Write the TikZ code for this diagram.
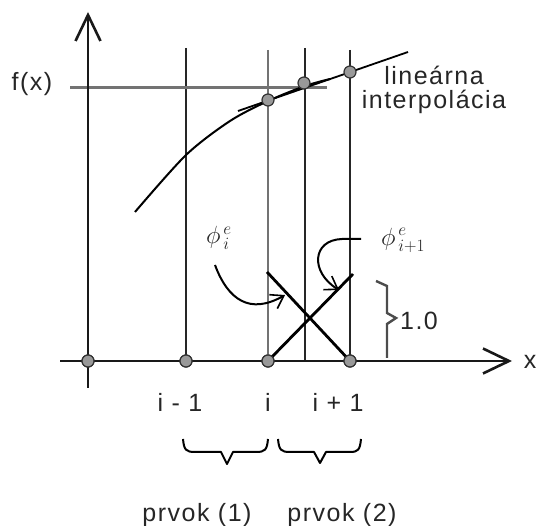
\documentclass[tikz,border=0pt]{standalone}
\usepackage{fontspec}
\setmainfont{Liberation Sans}[LetterSpace=6]
\usetikzlibrary{arrows.meta}
\begin{document}
\begin{tikzpicture}[x=1pt,y=-1pt,
  dot/.style={circle,draw=black!80,fill=gray!80,line width=1.2pt,minimum size=12pt,inner sep=0pt},
  axisline/.style={line width=2.6pt,black!90,-{Straight Barb[length=26pt,width=25pt,line width=2.6pt]}},
  gridline/.style={line width=2.2pt,black!85},
  grayline/.style={line width=2.4pt,black!55},
  hat/.style={line width=2.8pt,black},
  thin/.style={line width=2pt,black},
  pointer/.style={line width=2pt,black,-{Straight Barb[length=12pt,width=16pt,line width=1.6pt]}},
  lbl/.style={font=\fontsize{25}{27}\selectfont,text=black!85,inner sep=0pt},
  philbl/.style={font=\fontsize{24}{26}\selectfont,text=black!85,inner sep=0pt}]
\useasboundingbox (0,0) rectangle (539,526);

% dots on the x axis
\node[dot] (n0) at (88,361) {};
\node[dot] (n1) at (186,361) {};
\node[dot] (n2) at (268,361) {};
\node[dot] (n3) at (350,361) {};
\coordinate (ystart) at (88,388);
\coordinate (yend) at (88,12);
\coordinate (xstart) at (60,361);
\coordinate (xend) at (512,361);

% vertical lines
\coordinate (t1) at (186,48);
\coordinate (t2) at (268,50);
\coordinate (tm) at (305,48);
\coordinate (bm) at (305,361);
\coordinate (t3) at (350,50);
\draw[gridline] (t1) -- (n1.center);
\draw[grayline] (t2) -- (n2.center);
\draw[gridline] (tm) -- (bm);
\draw[gridline] (t3) -- (n3.center);

% f(x) horizontal line
\coordinate (fl) at (70,88);
\coordinate (fr) at (327,88);
\draw[grayline,line width=3pt] (fl) -- (fr);

% axes
\draw[axisline] (ystart) -- (yend);
\draw[axisline] (xstart) -- (xend);

% curve and linear interpolation
\draw[thin] plot[smooth] coordinates {(135,212) (186,155) (230,121) (268,101) (305,86) (330,79)};
\coordinate (la) at (238,111);
\coordinate (lb) at (408,52);
\draw[thin,line width=1.8pt] (la) -- (lb);
\node[dot] (c1) at (268,100) {};
\node[dot] (c2) at (304,83) {};
\node[dot] (c3) at (350,72) {};

% hat functions
\coordinate (hi) at (267,272);
\coordinate (hj) at (353,274);
\draw[hat] (hi) -- (n3.center);
\draw[hat] (n2.center) -- (hj);
\node[dot] at (268,361) {};
\node[dot] at (350,361) {};
\node[dot] at (88,361) {};
\node[dot] at (186,361) {};

% 1.0 bracket
\coordinate (ba) at (376,281);
\coordinate (bb) at (387,286);
\coordinate (bc) at (387,313);
\coordinate (bd) at (396,318);
\coordinate (be) at (387,324);
\coordinate (bf) at (387,358);
\draw[grayline,black!70] (ba) -- (bb) -- (bc) -- (bd) -- (be) -- (bf);
\node[lbl] (one) at (419,321) {1.0};

% labels
\node[lbl] (fx) at (32,84) {f(x)};
\node[lbl] (xl) at (530,362) {x};
\node[lbl] (li1) at (434,75) {lineárna};
\node[lbl] (li2) at (434,102) {interpolácia};
\node[lbl] (im1) at (180,402) {i - 1};
\node[lbl] (ii) at (268,402) {i};
\node[lbl] (ip1) at (338,402) {i + 1};
\node[lbl] (p1) at (197,515) {prvok (1)};
\node[lbl] (p2) at (342,515) {prvok (2)};

% phi labels and pointers
\node[philbl] (phi1) at (219,238) {$\phi^{\,e}_{\,i}$};
\node[philbl] (phi2) at (403,240) {$\phi^{\,e}_{\,i+1}$};
\coordinate (a1s) at (215,265);
\coordinate (a1e) at (285,295);
\draw[pointer] (a1s) .. controls (228,300) and (250,315) .. (a1e);
\coordinate (a2s) at (361,239);
\coordinate (a2e) at (339,290);
\draw[pointer] (a2s) -- (342,239) .. controls (312,240) and (310,272) .. (a2e);

% braces
\draw[thin,line join=round] (183,439) .. controls (184,450) and (186,452) .. (195,452) -- (221,452) -- (227,464) -- (233,452) -- (256,452) .. controls (265,452) and (267,450) .. (268,439);
\draw[thin,line join=round] (278,439) .. controls (279,450) and (281,452) .. (290,452) -- (314,452) -- (320,463) -- (326,452) -- (350,452) .. controls (358,452) and (360,450) .. (361,439);
\end{tikzpicture}
\end{document}
